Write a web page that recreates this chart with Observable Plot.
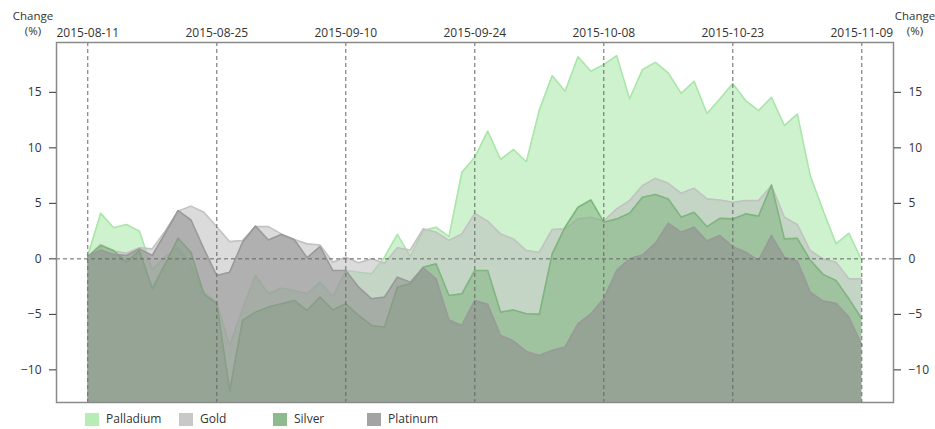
<!DOCTYPE html>
<html><head><meta charset="utf-8">
<script src="https://cdn.jsdelivr.net/npm/d3@7"></script>
<script src="https://cdn.jsdelivr.net/npm/@observablehq/plot@0.6"></script>
<style>
body{margin:0;background:#fff;font-family:"Open Sans",sans-serif;color:#333;}
#wrap{position:relative;width:935px;height:429px;overflow:hidden;background:#fff;}
.ylab{position:absolute;font-size:11.5px;line-height:15px;height:15px;text-align:center;width:44px;white-space:nowrap;}
#legend{position:absolute;left:85px;top:411px;display:flex;font-size:12px;line-height:16px;}
.item{width:94px;display:flex;align-items:center;}
.sw{width:14px;height:13px;margin-right:7px;}
</style></head><body>
<div id="wrap"><div id="chart"></div>
<div class="ylab" style="left:11px;top:8px">Change</div>
<div class="ylab" style="left:11px;top:23px">(%)</div>
<div class="ylab" style="left:893px;top:8px">Change</div>
<div class="ylab" style="left:893px;top:23px">(%)</div>
<div id="legend"></div></div>
<script>
const dates = ["2015-08-11","2015-08-12","2015-08-13","2015-08-14","2015-08-17","2015-08-18","2015-08-19","2015-08-20","2015-08-21","2015-08-24",
"2015-08-25","2015-08-26","2015-08-27","2015-08-28","2015-09-01","2015-09-02","2015-09-03","2015-09-04","2015-09-08","2015-09-09",
"2015-09-10","2015-09-11","2015-09-14","2015-09-15","2015-09-16","2015-09-17","2015-09-18","2015-09-21","2015-09-22","2015-09-23",
"2015-09-24","2015-09-25","2015-09-28","2015-09-29","2015-09-30","2015-10-01","2015-10-02","2015-10-05","2015-10-06","2015-10-07",
"2015-10-08","2015-10-09","2015-10-13","2015-10-14","2015-10-15","2015-10-16","2015-10-19","2015-10-20","2015-10-21","2015-10-22",
"2015-10-23","2015-10-26","2015-10-27","2015-10-28","2015-10-29","2015-10-30","2015-11-02","2015-11-03","2015-11-04","2015-11-05",
"2015-11-09"];
const tickDates = ["2015-08-11","2015-08-25","2015-09-10","2015-09-24","2015-10-08","2015-10-23","2015-11-09"];
const yTicks = [-10,-5,0,5,10,15];
const seriesNames = ["Palladium","Gold","Silver","Platinum"];

const palladium = [0.3,4.1,2.8,3.1,2.5,-1.0,0.2,1.0,-0.5,-3.0,-4.0,-7.8,-4.5,-1.5,-3.15,-2.65,-2.85,-3.15,-2.1,-3.4,
-1.05,-1.2,-1.35,0.15,2.2,0.2,2.55,2.85,2.0,7.8,
9.15,11.5,8.95,9.85,8.75,13.4,16.5,15.1,18.2,16.9,17.5,18.3,14.4,17.05,17.7,16.75,14.9,16.0,13.1,14.4,
15.8,14.25,13.35,14.55,12.0,13.05,7.5,4.35,1.35,2.3,-0.15];
const gold = [0.2,1.3,0.7,0.5,1.0,0.9,2.5,4.3,4.75,4.2,2.9,1.55,1.65,2.9,2.9,2.25,1.75,1.35,1.25,-0.3,
0.15,-0.35,0,-0.4,1.0,0.8,2.7,2.4,1.65,2.25,4.1,3.4,2.25,1.8,0.75,0.6,2.65,2.7,3.6,3.75,
3.4,4.5,5.25,6.6,7.25,6.8,5.9,6.35,5.4,5.3,5.1,5.25,5.25,6.6,3.75,3.1,0.75,0,-0.3,-1.8,-1.8];
const silver = [0.2,1.2,0.75,-0.3,0.75,-2.7,-0.45,1.85,0.6,-3.2,-4.0,-11.9,-5.55,-4.8,-4.35,-4.05,-3.75,-4.65,-3.45,-4.6,
-4.05,-5.1,-6.0,-6.15,-2.55,-2.25,-0.75,-0.45,-3.3,-3.15,-1.05,-1.05,-4.8,-4.6,-4.95,-5.0,0.45,2.85,4.65,5.3,
3.3,3.6,4.1,5.55,5.8,5.4,3.75,4.2,2.9,3.65,3.6,4.05,3.85,6.65,1.8,1.85,-0.1,-1.4,-1.95,-3.6,-5.4];
const platinum = [0.2,0.8,0.4,0.3,0.9,0.3,2.3,4.35,3.5,0.9,-1.5,-1.2,1.5,2.95,1.7,2.2,1.75,0.1,1.1,-1.05,
-1.05,-2.55,-3.6,-3.45,-1.65,-2.1,-0.8,-1.8,-5.5,-6.0,-3.75,-4.1,-6.9,-7.4,-8.35,-8.7,-8.25,-7.95,-5.85,-4.95,
-3.6,-1.05,0,0.35,1.4,3.2,2.4,2.85,1.6,2.1,1.1,0.6,-0.15,2.1,0.15,-0.2,-3.0,-3.8,-4.0,-5.25,-7.8];

const fills = ["#a6e8a6","#bdbdbd","#7fb27f","#8c8c8c"];
const strokes = ["#a9e6a9","#c2c2c2","#7fb57f","#9a9a9a"];
const swatches = ["#b5edb5","#c8c8c8","#8dbb8d","#a3a3a3"];
const valuesBySeries = [palladium, gold, silver, platinum];

const yMin = -12.94, yMax = 19.49;
const tickIdx = tickDates.map(d => dates.indexOf(d));

const marks = [];
valuesBySeries.forEach((vals, k) => {
  const rows = vals.map((v, i) => ({i, v}));
  marks.push(Plot.areaY(rows, {x: "i", y1: yMin, y2: "v", fill: fills[k], fillOpacity: 0.55}));
  marks.push(Plot.lineY(rows, {x: "i", y: "v", stroke: strokes[k], strokeWidth: 1.6}));
});
marks.push(Plot.ruleX(tickIdx, {x: d => d, stroke: "#666", strokeDasharray: "4,3", strokeWidth: 1}));
marks.push(Plot.ruleY([0], {stroke: "#666", strokeDasharray: "4,3", strokeWidth: 1}));
marks.push(Plot.frame({stroke: "#8a8a8a", strokeWidth: 1.5}));
marks.push(Plot.axisX(tickIdx, {anchor: "top", label: null, tickSize: 0, tickPadding: 6, tickFormat: i => dates[i], fill: "#333"}));
marks.push(Plot.axisY(yTicks, {anchor: "left", label: null, tickSize: 7, tickPadding: 8, stroke: "#333", fill: "#333"}));
marks.push(Plot.axisY(yTicks, {anchor: "right", label: null, tickSize: 7, tickPadding: 8, stroke: "#333", fill: "#333"}));

const chart = Plot.plot({
  width: 935, height: 410,
  marginTop: 42, marginBottom: 8, marginLeft: 56, marginRight: 42,
  x: {domain: [-2.426, 62.457], axis: null},
  y: {domain: [yMin, yMax], axis: null},
  style: {fontFamily: "Open Sans", fontSize: "12px", color: "#333", background: "transparent"},
  marks
});
document.getElementById("chart").appendChild(chart);

const legend = document.getElementById("legend");
seriesNames.forEach((n, k) => {
  const it = document.createElement("div"); it.className = "item";
  const sw = document.createElement("div"); sw.className = "sw"; sw.style.background = swatches[k];
  const t = document.createElement("span"); t.textContent = n;
  it.appendChild(sw); it.appendChild(t); legend.appendChild(it);
});
</script>
</body></html>
